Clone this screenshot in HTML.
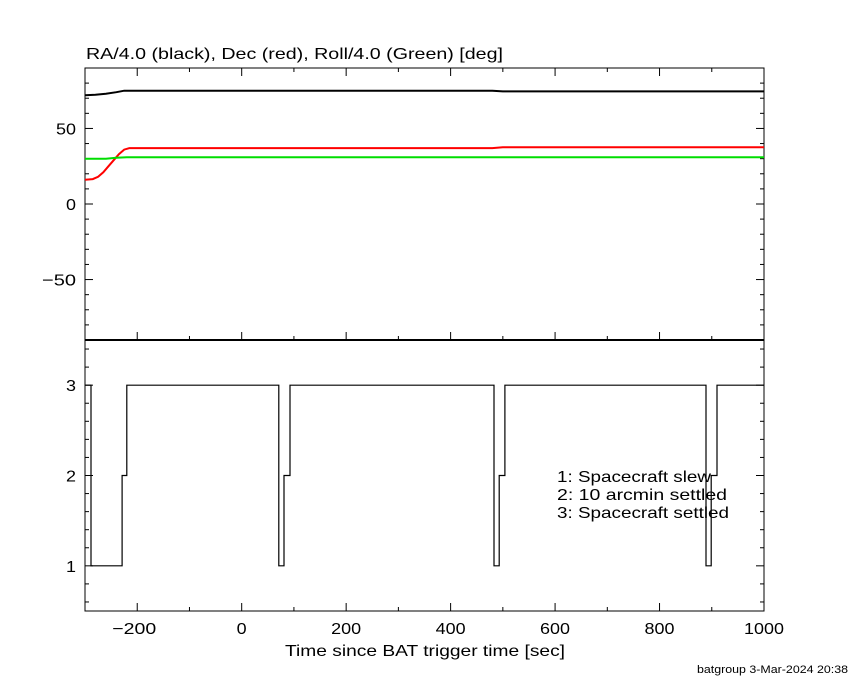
<!DOCTYPE html>
<html><head><meta charset="utf-8"><style>
body{margin:0;background:#fff;}
svg text{font-family:"Liberation Sans",sans-serif;font-size:16px;fill:#000;}
</style></head><body>
<svg id="c" width="850" height="680" xmlns="http://www.w3.org/2000/svg"></svg>
<script>
const xTicks=[-200,0,200,400,600,800,1000];
const yTopTicks=[-50,0,50];
const yBotTicks=[1,2,3];
const raT=[-300,-280,-260,-240,-225,-210,0,480,500,1000];
const raV=[72,72.3,73,74,75,75,75,75,74.5,74.5];
const decT=[-300,-285,-275,-265,-255,-245,-235,-225,-215,0,480,500,1000];
const decV=[16,16.5,18,21,25,29,33,36,37,37,37,37.5,37.5];
const rollT=[-300,-260,-240,-220,1000];
const rollV=[30,30,30.6,31,31];
const stepT=[-300,-288.5,-229,-220,71,81,92.5,483,493,504,889,899,910,1000];
const stepV=[3,1,2,3,1,2,3,1,2,3,1,2,3,3];
const L=85,R=764,T=68,M=340,B=611;
const X=t=>L+(t+300)/1300*(R-L);
const YT=v=>M-(v+90)/180*(M-T);
const YB=v=>B-(v-0.5)/3*(B-M);
const svg=document.getElementById('c');
function el(n,a,p){const e=document.createElementNS('http://www.w3.org/2000/svg',n);for(const k in a)e.setAttribute(k,a[k]);(p||svg).appendChild(e);return e;}
function txt(s,x,y,anch,name,size,len){const e=el('text',{x:x,y:y,'text-anchor':anch||'start'});if(size)e.style.fontSize=size+'px';
if(len){e.setAttribute('textLength',len);e.setAttribute('lengthAdjust','spacingAndGlyphs');}
e.textContent=s;

return e;}
const f1=el('rect',{x:L,y:T,width:R-L,height:M-T,fill:'none',stroke:'#000','stroke-width':1});


const f2=el('rect',{x:L,y:M,width:R-L,height:B-M,fill:'none',stroke:'#000','stroke-width':1});


const div=el('line',{x1:L,x2:R,y1:M,y2:M,stroke:'#000','stroke-width':2});


for(let t=-300;t<=1000;t+=100){const big=t%200===0;const x=X(t);
el('line',{x1:x,x2:x,y1:B,y2:B-(big?8:4),stroke:'#000'});
el('line',{x1:x,x2:x,y1:T,y2:T+(big?8:4),stroke:'#000'});
el('line',{x1:x,x2:x,y1:M,y2:M-(big?8:4),stroke:'#000'});}
const lab=v=>v<0?'\u2212'+(-v):String(v);
const w=s=>s.replace('\u2212','').length*10+(s[0]==='\u2212'?14:0);
xTicks.forEach(t=>{const s=lab(t);txt(s,X(t)-(t<0?3:0),634,'middle','x-tick-label',16,w(s));});
for(let v=-80;v<=90;v+=10){const big=v%50===0;const y=YT(v);
el('line',{x1:L,x2:L+(big?8:4),y1:y,y2:y,stroke:'#000'});el('line',{x1:R,x2:R-(big?8:4),y1:y,y2:y,stroke:'#000'});}
yTopTicks.forEach(v=>{const s=lab(v);txt(s,76,YT(v)+6,'end','y-top-tick-label',16,w(s));});
for(let v=0.6;v<3.45;v+=0.2){const r=Math.round(v*10)/10;const big=Math.abs(r-Math.round(r))<0.01;const y=YB(r);
el('line',{x1:L,x2:L+(big?8:4),y1:y,y2:y,stroke:'#000'});el('line',{x1:R,x2:R-(big?8:4),y1:y,y2:y,stroke:'#000'});}
yBotTicks.forEach(v=>txt(String(v),76,YB(v)+6,'end','y-bottom-tick-label',16,10));
function line(ts,vs,Y,col,name,w){let d='';ts.forEach((t,i)=>d+=(i?'L':'M')+X(t).toFixed(1)+','+Y(vs[i]).toFixed(1));
const p=el('path',{d:d,fill:'none',stroke:col,'stroke-width':w});

}
line(raT,raV,YT,'#000','ra-series',2);
line(decT,decV,YT,'#f00','dec-series',2);
line(rollT,rollV,YT,'#0d0','roll-series',2);
let d='';stepT.forEach((t,i)=>{if(i===0)d='M'+X(t)+','+YB(stepV[i]);else d+='H'+X(t).toFixed(1)+'V'+YB(stepV[i]).toFixed(1);});
const sp=el('path',{d:d,fill:'none',stroke:'#000','stroke-width':1.2});


txt('RA/4.0 (black), Dec (red), Roll/4.0 (Green) [deg]',86,59,'start','chart-title',16,417);
txt('Time since BAT trigger time [sec]',285,656,'start','x-axis-title',16,280);
txt('1: Spacecraft slew',557,482,'start','legend-entry',16,154);
txt('2: 10 arcmin settled',557,500,'start','legend-entry',16,170);
txt('3: Spacecraft settled',557,518,'start','legend-entry',16,172);
txt('batgroup  3-Mar-2024 20:38',848,673,'end','footer-stamp',11,151);
</script>
</body></html>
